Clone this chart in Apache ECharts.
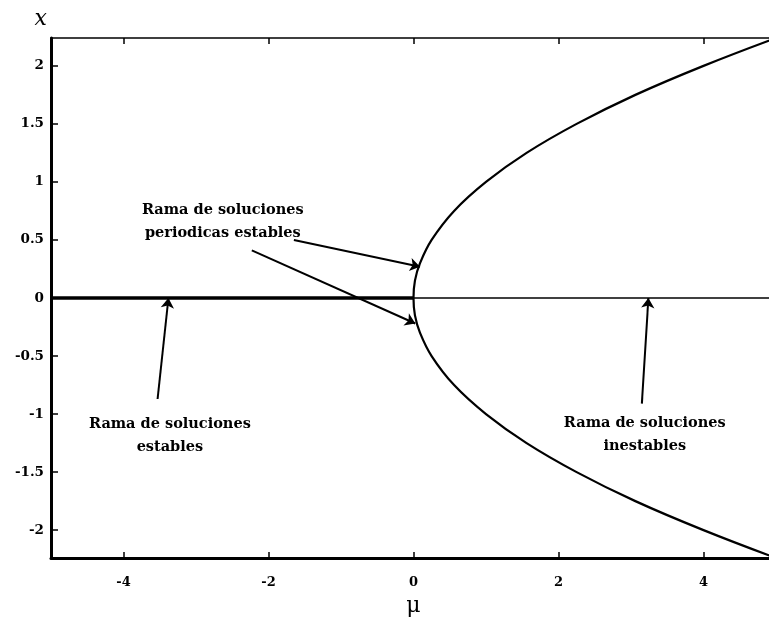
<!DOCTYPE html>
<html>
<head>
<meta charset="utf-8">
<script src="https://cdn.jsdelivr.net/npm/echarts@6/dist/echarts.min.js"></script>
<style>
  html, body { margin: 0; padding: 0; background: #fff; }
  #chart { width: 769px; height: 618px; }
</style>
</head>
<body>
<div id="chart"></div>
<script>
// Hopf bifurcation diagram: amplitude x versus parameter mu
const xTicks = [-4, -2, 0, 2, 4];
const yTicks = [-2, -1.5, -1, -0.5, 0, 0.5, 1, 1.5, 2];

// Periodic branch (parabola), points listed from bottom to top
const branchMu = [5.0, 4.0, 3.06, 2.25, 1.56, 1.0, 0.56, 0.25, 0.09, 0.02, 0, 0.02, 0.09, 0.25, 0.56, 1.0, 1.56, 2.25, 3.06, 4.0, 5.0];
const branchX  = [-2.24, -2, -1.75, -1.5, -1.25, -1, -0.75, -0.5, -0.3, -0.15, 0, 0.15, 0.3, 0.5, 0.75, 1, 1.25, 1.5, 1.75, 2, 2.24];

// Equilibrium branch: stable for mu < 0, unstable for mu > 0
const stableMu = [-5, 0];
const stableX = [0, 0];
const unstableMu = [0, 5];
const unstableX = [0, 0];

// Annotation arrows [tailMu, tailX, headMu, headX]
const arrows = [
  [-1.65, 0.50, 0.09, 0.27],
  [-2.23, 0.41, 0.025, -0.22],
  [-3.53, -0.87, -3.38, 0.0],
  [3.15, -0.91, 3.24, 0.0]
];

// Annotation texts and their centres [mu, x]
const notes = [
  { text: 'Rama de soluciones\nperiodicas estables', at: [-2.63, 0.66] },
  { text: 'Rama de soluciones\nestables', at: [-3.36, -1.19] },
  { text: 'Rama de soluciones\ninestables', at: [3.19, -1.18] }
];

const serif = 'DejaVu Serif';
const zip = (a, b) => a.map((v, i) => [v, b[i]]);

const chart = echarts.init(document.getElementById('chart'), null, { renderer: 'canvas' });
chart.setOption({
  animation: false,
  backgroundColor: '#ffffff',
  grid: { left: 51, top: 38, width: 725, height: 520, containLabel: false, outerBoundsMode: 'none' },
  xAxis: [{
    type: 'value', min: -5, max: 5,
    name: 'μ', nameLocation: 'middle', nameGap: 37,
    nameTextStyle: { fontFamily: serif, fontSize: 22, color: '#000' },
    axisLine: { show: true, onZero: false, lineStyle: { color: '#000', width: 3 } },
    axisTick: { show: true, inside: true, length: 6, customValues: xTicks, lineStyle: { color: '#000', width: 1.5 } },
    axisLabel: { customValues: xTicks, margin: 18, fontFamily: serif, fontSize: 13, fontWeight: 'bold', color: '#000' },
    splitLine: { show: false }
  }, {
    type: 'value', min: -5, max: 5, position: 'top',
    axisLine: { show: true, onZero: false, lineStyle: { color: '#000', width: 1.5 } },
    axisTick: { show: true, inside: true, length: 6, customValues: xTicks, lineStyle: { color: '#000', width: 1.5 } },
    axisLabel: { show: false },
    splitLine: { show: false }
  }],
  yAxis: [{
    type: 'value', min: -2.24, max: 2.24,
    name: 'x', nameLocation: 'end', nameGap: 8,
    nameTextStyle: { fontFamily: serif, fontStyle: 'italic', fontSize: 22, color: '#000', align: 'right', padding: [0, 4, 0, 0] },
    axisLine: { show: true, onZero: false, lineStyle: { color: '#000', width: 3 } },
    axisTick: { show: true, inside: true, length: 7, customValues: yTicks, lineStyle: { color: '#000', width: 1.5 } },
    axisLabel: { customValues: yTicks, margin: 7, fontFamily: serif, fontSize: 13.5, fontWeight: 'bold', color: '#000' },
    splitLine: { show: false }
  }],
  series: [
    {
      type: 'line', name: 'stable', data: zip(stableMu, stableX),
      symbol: 'none', lineStyle: { color: '#000', width: 3.5 }, silent: true
    },
    {
      type: 'line', name: 'unstable', data: zip(unstableMu, unstableX),
      symbol: 'none', lineStyle: { color: '#000', width: 1.4 }, silent: true
    },
    {
      type: 'line', name: 'periodic', data: zip(branchMu, branchX),
      symbol: 'none', smooth: 0.4, lineStyle: { color: '#000', width: 2.2 }, silent: true
    },
    {
      type: 'line', name: 'notes', data: [], symbol: 'none', silent: true,
      markLine: {
        silent: true,
        symbol: ['none', 'arrow'],
        symbolSize: 10,
        label: { show: false },
        lineStyle: { color: '#000', width: 2, type: 'solid' },
        itemStyle: { color: '#000' },
        emphasis: { disabled: true },
        data: arrows.map(a => [{ coord: [a[0], a[1]] }, { coord: [a[2], a[3]] }])
      },
      markPoint: {
        silent: true,
        symbol: 'circle',
        symbolSize: 0,
        data: notes.map(n => ({
          coord: n.at,
          label: {
            show: true, position: 'inside', formatter: n.text,
            fontFamily: serif, fontSize: 14.5, fontWeight: 'bold', lineHeight: 23, align: 'center',
            color: '#000'
          }
        }))
      }
    }
  ]
});
</script>
</body>
</html>
